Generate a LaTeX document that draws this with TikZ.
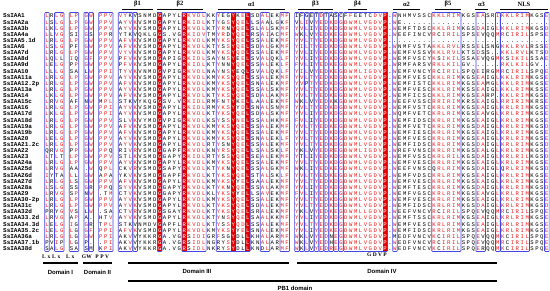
\documentclass[tikz,border=0pt]{standalone}
\usepackage{fontspec}
\setmainfont{Liberation Serif}
\setsansfont{Liberation Sans}
\newfontfamily\seqfont{Liberation Mono}
\usetikzlibrary{positioning}

\definecolor{idred}{RGB}{228,0,0}
\definecolor{simred}{RGB}{235,25,25}
\definecolor{boxblue}{RGB}{70,70,230}

\newcount\col
\newcount\rowi

% similarity groups for the red letters
\def\grpI{h}\def\grpL{h}\def\grpV{h}\def\grpM{h}
\def\grpK{k}\def\grpR{k}
\def\grpD{d}\def\grpE{d}
\def\grpS{s}\def\grpT{s}
\def\grpF{f}\def\grpY{f}\def\grpW{f}
\def\grpN{n}\def\grpQ{n}
\def\grp#1{\ifcsname grp#1\endcsname\csname grp#1\endcsname\else#1\fi}

% one letter per column: store a string as \ct0, \ct1, ... (or \cs..)
\def\setlist#1#2#3{\col=#2\relax\def\lpre{#1}\listloop#3\relax}
\def\listloop#1{\ifx#1\relax\else\expandafter\def\csname\lpre\the\col\endcsname{#1}\advance\col by 1 \expandafter\listloop\fi}

% column types: n = plain, b = framed, r = identical (red)
\setlist{ct}{0}{bnbbnbbnbbnbbbnbbbbnnnnrnnnnrbbbbnnbbbrbbrnnbbnnbbnbbbbbbbbbbbbbbbbbbrnbnnnnnnnbbbbbbnnnbbnnbbbbbbbnnnb}
% consensus
\setlist{cs}{0}{LRLG-LP-GW-PPV}
\setlist{cs}{15}{VYVKVSMDGAPYLRKVDLKMYKSYQELSSALEKMF}
\setlist{cs}{51}{YVLTYEDKDGDWMLVGDVP}
\setlist{cs}{70}{.WEMFVESCKRLRIMKGSEAIGLKRLRIMKGSE}

\def\drawres#1{%
  \ifx#1-\else
    \edef\ct{\csname ct\the\col\endcsname}%
    \def\rescol{black}%
    \if r\ct\def\rescol{white}\fi
    \if b\ct
      \edef\ga{\grp{#1}}\edef\gb{\grp{\csname cs\the\col\endcsname}}%
      \ifx\ga\gb\def\rescol{simred}\fi
    \fi
    \node[res,text=\rescol] (r\the\rowi-\the\col) at ({47+4.9*\the\col},{16+6.12*\the\rowi}) {#1};%
  \fi}
\def\eatchar#1{\ifx#1\relax\else\drawres{#1}\advance\col by 1 \expandafter\eatchar\fi}
\def\putseq#1#2{\col=#1\relax\eatchar#2\relax}
\def\putfirst#1#2#3\relax{\col=#1\relax\drawres{#2}}
\def\sqrow#1#2#3#4#5#6#7#8#9{%
  \node[seqname] (nm\the\rowi) at (3,{16+6.12*\the\rowi}) {#1};
  \putseq{0}{#2}\putseq{15}{#3}\putseq{51}{#4}\putseq{70}{#5}%
  \putseq{79}{#6}\putseq{85}{#7}\putseq{88}{#8}\putseq{90}{#9}%
  \putseq{93}{#6}\putseq{99}{#7}\putfirst{102}#8\relax
  \global\advance\rowi by 1 }

\tikzset{
  res/.style={font=\seqfont\fontsize{5.6}{6}\selectfont, inner sep=0pt, text height=4pt, text depth=0pt},
  seqname/.style={font=\seqfont\bfseries\fontsize{6}{6}\selectfont, anchor=west, inner sep=0pt, text height=4pt, text depth=0pt},
  frame/.style={draw=boxblue, line width=0.7pt, rounded corners=0.8pt},
  idcol/.style={fill=idred},
  sslabel/.style={font=\bfseries\fontsize{6.5}{6.5}\selectfont, inner sep=0pt},
  ssline/.style={line width=1.3pt},
  domlabel/.style={font=\sffamily\bfseries\fontsize{6}{6}\selectfont, inner sep=0pt},
  domline/.style={line width=1.1pt},
  motif/.style={font=\bfseries\fontsize{5.5}{5.5}\selectfont, inner sep=0pt}
}

\begin{document}
\begin{tikzpicture}[x=1pt,y=-1pt]
  \fill[white] (0,0) rectangle (550,291);
  \useasboundingbox (0,0) rectangle (550,291);

  % identical columns
  \foreach \k in {23,28,38,41,69}
    \fill[idcol] ({47+4.9*\k-2.45},12.5) rectangle ({47+4.9*\k+2.45},251.5);

  % similarity frames
  \foreach \a/\b in {0/0,2/3,5/6,8/8,9/9,11/13,15/17,18/18,23/23,28/32,35/41,44/45,48/49,
      51/51,52/52,53/53,54/54,55/55,56/56,57/57,58/58,59/59,60/60,61/69,71/71,
      79/84,88/89,92/92,93/98,102/102}
    \draw[frame] ({47+4.9*\a-2.3},12.5) rectangle ({47+4.9*\b+2.3},251.5);

  % secondary structure
  \foreach \lab/\a/\b [count=\i] in {β1/122/153,β2/157/203,α1/218/285,β3/298/333,β4/348/367,
      α2/393/420,β5/435/461,α3/475/488,NLS/500/548}{
    \draw[ssline] (\a,9.5) coordinate (s\i a) -- (\b,9.5) coordinate (s\i b);
    \node[sslabel] (ss\i) at ({(\a+\b)/2},4) {\lab};
  }

  % the alignment
  \global\rowi=0
  \sqrow{SsIAA1}{LRLG-LP-GW-PPV}{VYKVSNMDGAPYLRKVDLKKYEGYKELSDALEKMF}{IFGETDTASCFFEETCDVP}{.WNHMVSSC}{KKLRIM}{KGS}{EA}{SRI}
  \sqrow{SsIAA2a}{LSLG-LP-GW-PPV}{AYVKVSMDGAPYLRKIDLKTYGSYQELLSAALGKF}{VLIVYEDKDGDWMLVGDVP}{.WE......}{......}{...}{..}{...}
  \sqrow{SsIAA3b}{LKLG-LP-GW-PPV}{AYVKVSMDGAPYLRKVDLKTYRNYQELSLALSKMF}{YVLIYEDKDGDWMLVGDVP}{.WEMFTDSC}{KKLRIM}{KGS}{DA}{IGL}
  \sqrow{SsIAA4a}{LLVG-SI-GS-PPR}{YTKVQKLGGS.VGRKIDVTMYRDYQELRSAIACMF}{WKLVYEDKEGDWMLVGDVP}{.WEEFINCV}{RCIRIL}{SPS}{EV}{QQM}
  \sqrow{SsIAA5.1d}{LRLG-LP-GW-PPV}{AFVKVSMDGAPYLRKVDLKMYKSYQELSSALEKMF}{YVLTYEDKDGDWMLVGDVP}{.........}{......}{...}{..}{...}
  \sqrow{SsIAA6}{LSLG-PF-GW-PPV}{AFVKVSMDGAPYLRKVDLKTYSSYQELSDALGKMF}{YILTYEDKDGDWMLVGDVP}{.WNMFVSTA}{KKLRVL}{RSS}{EL}{SNG}
  \sqrow{SsIAA7d}{LRLG-LP-GW-PPV}{VYVKVSMDGAPYLRKVDLKMYKSYQDLSSALEKMF}{YVLIYEDKEGDWMLVGDVP}{.WEMFVSSV}{KKLRVL}{KTS}{DS}{S..}
  \sqrow{SsIAA8d}{LQLL-IQ-GF-PPV}{PFVKVSMDGAPIGRKIDLSAYNSYEELSVALQKLF}{YVLIYEDKDGDWMLVGDVP}{.WEMFVSCY}{KSIKIL}{SSA}{EV}{QGM}
  \sqrow{SsIAA9d}{LELG-PP-GW-PPV}{PFVKVSMDGAPYLRKIDLKTYNNYQELSSALEKLF}{FVLIYEDKEGDWMLVGDVP}{.WRMFARSV}{RKLKIL}{GV.}{..}{...}
  \sqrow{SsIAA10}{LLLG-SA-LW-PPI}{TYVKVNMDGVPIGRKVDLNAYNSYEQLSVALQKLF}{YILVYEDKEGDWMLIGDVP}{.WEMFVNCY}{RCIRIL}{SPQ}{EI}{RGM}
  \sqrow{SsIAA11a}{LRLG-LP-GW-PPV}{AYVKVSMDGAPYLRKVDLKMYKSYQELSSALEKMF}{YVLTYEDKDGDWMLVGDVP}{.WEMFVESC}{KKLRIM}{KGS}{EA}{IGL}
  \sqrow{SsIAA12.2p}{LRLG-LP-GW-PPV}{AFVKVSMDGAPYLRKVDLKMYKSYQELSNALEKMF}{YVPTYEDKDGDWMLVGDVP}{.WEMFISTC}{KKLRIM}{KGS}{EA}{MGL}
  \sqrow{SsIAA13a}{LRLG-LP-GW-PPV}{AYVKVSMDGAPYLRKVDLKMYKSYQELSSALSKMF}{YVLTYEDKDGDWMLVGDVP}{.WEMFVESC}{KKLRIM}{KSS}{EA}{IGL}
  \sqrow{SsIAA14}{LKLG-LP-GW-PPV}{AFVKVSMDGAPYLRKVDLKTYKSYQELSDALAKMF}{YVLTYEDKEGDWMLVGDVP}{.WEMFICSC}{KKLRIM}{KGS}{EA}{RP.}
  \sqrow{SsIAA15c}{LRVG-AF-NW-MPL}{STKVYKQGGSV.VRKIDLRMFNTYKELLAALEKMF}{WKLVYEDKKGDWMLVGDVP}{.WEEFVSSC}{RRIRIM}{KRS}{EA}{IGL}
  \sqrow{SsIAA16}{LRLG-LP-GW-PPI}{AYVKVSMDGAPYLRKIDLRMYKSYYDLSNALSNMF}{YVLTYEDKDGDWMLVGDVP}{.WEMFVSTC}{KRLRIM}{KGS}{EA}{IGL}
  \sqrow{SsIAA17d}{LKLG-LP-GW-PPI}{AYVKVSMDGAPYLRKVDLKTYKSYQELSDALSKMF}{YVLIYEDKDGDWMLVGDVP}{.WQMFVETC}{KRLRIM}{KGS}{EA}{VGL}
  \sqrow{SsIAA18d}{LRLG-LP-GW-PPV}{SLVKVYMDGVPIGRKVDLKSYSSYNELSSALHKMF}{FVLIYEDKDGDWMLVGDVP}{.WEMFIDSC}{KRLRIM}{KGS}{EA}{IGL}
  \sqrow{SsIAA19a}{LRLG-LP-GW-PPV}{AFVKVSMDGAPYLRKVDLKMYKSYQELSSALEKMF}{YVLTYEDKEGDWMLVGDVP}{.WEMFVETC}{KRLRIM}{KGS}{DA}{IGL}
  \sqrow{SsIAA19b}{LRLG-LP-GW-PPV}{AFVKVSMDGAPYLRKVDLKMYKSYQELSSALEKMF}{YVLTYEDKDGDWMLVGDVP}{.WEMFIESC}{KRLRIM}{KGS}{EA}{IGL}
  \sqrow{SsIAA20}{LELG-LP-GW-PPV}{AYVKVSMDGAPYLRKVDLKMYKSYQELSNALEKLF}{YVLTYEDKDGDWMLVGDVP}{.WEMFVESC}{KRLRIM}{KGS}{EA}{IGL}
  \sqrow{SsIAA21.2c}{LRLG-LP-GW-PPV}{AYVKVSMDGAPYLRKVDLRTYSNYQELSSALEKMF}{YVLTYEDKDGDWMLVGDVP}{.WEMFIDSC}{KRLRIM}{KGS}{DA}{IGL}
  \sqrow{SsIAA22}{QRVG-PP-GW-PPQ}{RIVRVSMDGGAPFRKVDLKNYRSYQELLSALSKLF}{YKLVYEDREGDWMLIGDVP}{.WREFVNSC}{KRLRIM}{KGS}{EA}{LGL}
  \sqrow{SsIAA23}{LTLT-LP-GW-PPV}{STLKVSMDGGAPYRKIDLRTYSSYQELSEALEKMF}{YTLIYEDKDGDWMLVGDVP}{.WEMFVSSC}{KRLRIL}{KGS}{DA}{IGL}
  \sqrow{SsIAA24a}{LRLG-LP-GW-PPV}{AYVKVSMDGAPYLRKVDLKMYKSYQELSSALEKMF}{YVLTYEDKDGDWMLVGDVP}{.WEMFVESC}{KRLRIM}{KGS}{EA}{IGL}
  \sqrow{SsIAA25d}{LRVG-AA-.W-QPL}{CKVRVSMDGSAPYRKVDLKTYKNYQELSSALGKMF}{WKLIYEDKEGDWMLVGDVP}{.WEEFVNSC}{QRLRIM}{KGS}{DA}{IGL}
  \sqrow{SsIAA26d}{IYTA-LL-GW-APA}{YKVKVSMDGGAPFRKVDLKTYKSYQELSTALSKLF}{YVLTYEDKEGDWMLVGDVP}{.WEMFVDSC}{KRLRIM}{KGS}{EA}{IGL}
  \sqrow{SsIAA27d}{LRLG-LS-GW-PPV}{AFVKVSMDGAPYLRKVDLKMYKSYYELSAALEKMF}{YVLTYEDKDGDWMLVGDVP}{.WEMFVESC}{KRLRIM}{KGS}{EA}{IGL}
  \sqrow{SsIAA28a}{LSLG-SS-GR-PPQ}{SYVKVSMDGGAPYRKVDLKTYKNYQELSSALAKMF}{YVLIYEDKDGDWMLVGDVP}{.WEMFTESC}{KRLRIM}{KGS}{DA}{IGL}
  \sqrow{SsIAA29}{LRVG-SP-NW-.TM}{CTVKVSMDGGAPYRKVDLKLYKSYYELLSAVEKMF}{FVLIYEDKEGDWMLVGDVP}{.WEMFVGSC}{KRLRIM}{KGS}{EA}{VGL}
  \sqrow{SsIAA30-2p}{LRLG-LP-GW-PPV}{AYVKVSMDGAPYLRKVDLKMYKSYQELSSALEKMF}{YVLTYEDKDGDWMLVGDVP}{.WEMFVESC}{KRLRIM}{KGS}{EA}{IGL}
  \sqrow{SsIAA31c}{LRLG-LP-GW-PPV}{AYVKVSMDGAPYLRKVDLKTYKSYQELSDALEKMF}{YVLTYEDKDGDWMLVGDVP}{.WEMFIDSC}{KRLRIM}{KGS}{DA}{IGL}
  \sqrow{SsIAA32d}{PRYG-VS-LW-.SA}{CTVRVSMDGSGAYRKVDLKTYKSYQELSRALEKMF}{YKLVYEDKEGDWMLLGDVP}{.WEEFVNCV}{RCIRIL}{SPQ}{EV}{QQM}
  \sqrow{SsIAA33.2d}{LRVG-AP-A.-HTV}{AYVKVSMDGAPYLRKVDLKTYNSYQELSAALKKMF}{YVLIYEDKDGDWMLVGDVP}{.WEMFTSSC}{KRLRIM}{KGS}{EA}{IGL}
  \sqrow{SsIAA34.3d}{LELG-IG-GR-TPL}{STKVNMDVGAPFLRKVDLKTYSSYQDLSSALEKMF}{YVLTYEDKDGDWMLVGDVP}{.WEMFVESC}{KRLRIM}{KGS}{EA}{IGL}
  \sqrow{SsIAA35.2c}{LELG-LG-GF-PPI}{AFVKVSMDGAPYLRKVDLKMYKSYYELSNALEKMF}{YVLIYEDKEGDWMLVGDVP}{.WEMFIDSC}{KRLRIM}{KGS}{EA}{IGL}
  \sqrow{SsIAA36a}{LRLG-LG-GW-PPI}{AKVVYKKRGA.VGRSIDIGRFSGYDLLKHALARMF}{WKLVYEDNEGDWMLVGDVP}{.MEDFVNCV}{KCIRIL}{SPQ}{EV}{QQM}
  \sqrow{SsIAA37.1b}{PVIP-LG-P.-.PI}{AKVVYKKRGA.VGRSIDLNGRYSYDLLKNALARMF}{WKLVYEDHEGDWMLVGDVP}{.WEDFVNCV}{RCIRIL}{SPQ}{EV}{QQM}
  \sqrow{SsIAA38d}{SALG-SA-SM-KPI}{AKVVYKKRGA.VGRSIDLNKRYSYDLLKNDLARMF}{WKLVYEDREGDWMLVGDVP}{.WEDFVNCV}{KCIRIL}{SPQ}{ER}{QQM}

  % motifs and domains
  \foreach \m/\x [count=\i] in {L/44,x/49,L/54,x/59,L/68,x/73}
    \node[motif] (la\i) at (\x,257) {\m};
  \foreach \m/\x [count=\i] in {G/84,W/89,P/97,P/102,V/107}
    \node[motif] (lb\i) at (\x,257) {\m};
  \node[motif] (gdvp) at (377,255) {G D V P};

  \draw[domline] (43,263) coordinate (d1a) -- (78,263) coordinate (d1b);
  \draw[domline] (83,263) coordinate (d2a) -- (112,263) coordinate (d2b);
  \draw[domline] (128,263) coordinate (d3a) -- (289,263) coordinate (d3b);
  \draw[domline] (297,263) coordinate (d4a) -- (497,263) coordinate (d4b);
  \draw[domline] (128,281) coordinate (pba) -- (497,281) coordinate (pbb);
  \node[domlabel] (dom1) at (60.5,272) {Domain I};
  \node[domlabel] (dom2) at (97.5,272) {Domain II};
  \node[domlabel] (dom3) at (197,271) {Domain III};
  \node[domlabel] (dom4) at (382,271) {Domain IV};
  \node[domlabel] (pb1) at (295,288) {PB1 domain};
\end{tikzpicture}
\end{document}
